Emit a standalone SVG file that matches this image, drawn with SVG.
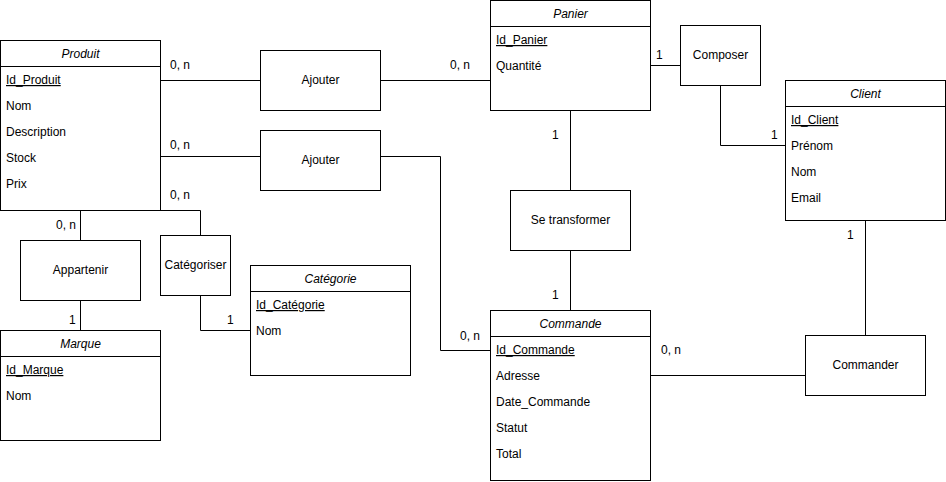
<svg xmlns="http://www.w3.org/2000/svg" width="946" height="482" viewBox="0 0 946 482">
<style>
text{font-family:"Liberation Sans",Arial,Helvetica,sans-serif;font-size:12px;fill:#000}
.box{fill:#fff;stroke:#000;stroke-width:1}
.sep{stroke:#000;stroke-width:1}
.title{font-style:italic;text-anchor:middle}
.key{text-decoration:underline}
.rel{text-anchor:middle}
.conn path{fill:none;stroke:#000;stroke-width:1}
</style>
<rect width="946" height="482" fill="#fff"/>
<g id="connectors" class="conn">
<path d="M160.5 80.5H260.5"/>
<path d="M380.5 80.5H490.5"/>
<path d="M160.5 156.5H260.5"/>
<path d="M380.5 156.5H440.5V350.5H490.5"/>
<path d="M160.5 210.5H200.5V235.5"/>
<path d="M200.5 295.5V330.5H250.5"/>
<path d="M80.5 210.5V240.5"/>
<path d="M80.5 300.5V330.5"/>
<path d="M650.5 65.5H680.5"/>
<path d="M720.5 85.5V145.5H785.5"/>
<path d="M570.5 110.5V190.5"/>
<path d="M570.5 250.5V310.5"/>
<path d="M865.5 220.5V335.5"/>
<path d="M650.5 375.5H805.5"/>
</g>
<g id="labels">
<text x="170" y="69">0, n</text>
<text x="450" y="69">0, n</text>
<text x="170" y="149">0, n</text>
<text x="170" y="199">0, n</text>
<text x="56" y="229">0, n</text>
<text x="69" y="324">1</text>
<text x="227" y="324">1</text>
<text x="460" y="340">0, n</text>
<text x="661" y="354">0, n</text>
<text x="656" y="59">1</text>
<text x="771" y="139">1</text>
<text x="552" y="139">1</text>
<text x="552" y="299">1</text>
<text x="847" y="239">1</text>
</g>
<g id="produit">
<rect class="box" x="0.5" y="40.5" width="160" height="170"/>
<line class="sep" x1="0.5" y1="66.5" x2="160.5" y2="66.5"/>
<text class="title" x="80.5" y="58">Produit</text>
<text class="key" x="6" y="84">Id_Produit</text>
<text x="6" y="110">Nom</text>
<text x="6" y="136">Description</text>
<text x="6" y="162">Stock</text>
<text x="6" y="188">Prix</text>
</g>
<g id="panier">
<rect class="box" x="490.5" y="0.5" width="160" height="110"/>
<line class="sep" x1="490.5" y1="26.5" x2="650.5" y2="26.5"/>
<text class="title" x="570.5" y="18">Panier</text>
<text class="key" x="496" y="44">Id_Panier</text>
<text x="496" y="70">Quantité</text>
</g>
<g id="client">
<rect class="box" x="785.5" y="80.5" width="160" height="140"/>
<line class="sep" x1="785.5" y1="106.5" x2="945.5" y2="106.5"/>
<text class="title" x="865.5" y="98">Client</text>
<text class="key" x="791" y="124">Id_Client</text>
<text x="791" y="150">Prénom</text>
<text x="791" y="176">Nom</text>
<text x="791" y="202">Email</text>
</g>
<g id="categorie">
<rect class="box" x="250.5" y="265.5" width="160" height="110"/>
<line class="sep" x1="250.5" y1="291.5" x2="410.5" y2="291.5"/>
<text class="title" x="330.5" y="283">Catégorie</text>
<text class="key" x="256" y="309">Id_Catégorie</text>
<text x="256" y="335">Nom</text>
</g>
<g id="commande">
<rect class="box" x="490.5" y="310.5" width="160" height="170"/>
<line class="sep" x1="490.5" y1="336.5" x2="650.5" y2="336.5"/>
<text class="title" x="570.5" y="328">Commande</text>
<text class="key" x="496" y="354">Id_Commande</text>
<text x="496" y="380">Adresse</text>
<text x="496" y="406">Date_Commande</text>
<text x="496" y="432">Statut</text>
<text x="496" y="458">Total</text>
</g>
<g id="marque">
<rect class="box" x="0.5" y="330.5" width="160" height="110"/>
<line class="sep" x1="0.5" y1="356.5" x2="160.5" y2="356.5"/>
<text class="title" x="80.5" y="348">Marque</text>
<text class="key" x="6" y="374">Id_Marque</text>
<text x="6" y="400">Nom</text>
</g>
<g id="ajouter1">
<rect class="box" x="260.5" y="50.5" width="120" height="60"/>
<text class="rel" x="320.5" y="84">Ajouter</text>
</g>
<g id="ajouter2">
<rect class="box" x="260.5" y="130.5" width="120" height="60"/>
<text class="rel" x="320.5" y="164">Ajouter</text>
</g>
<g id="composer">
<rect class="box" x="680.5" y="25.5" width="80" height="60"/>
<text class="rel" x="720.5" y="59">Composer</text>
</g>
<g id="setransformer">
<rect class="box" x="510.5" y="190.5" width="120" height="60"/>
<text class="rel" x="570.5" y="224">Se transformer</text>
</g>
<g id="appartenir">
<rect class="box" x="20.5" y="240.5" width="120" height="60"/>
<text class="rel" x="80.5" y="274">Appartenir</text>
</g>
<g id="categoriser">
<rect class="box" x="160.5" y="235.5" width="70" height="60"/>
<text class="rel" x="195.5" y="269">Catégoriser</text>
</g>
<g id="commander">
<rect class="box" x="805.5" y="335.5" width="120" height="60"/>
<text class="rel" x="865.5" y="369">Commander</text>
</g>
</svg>
